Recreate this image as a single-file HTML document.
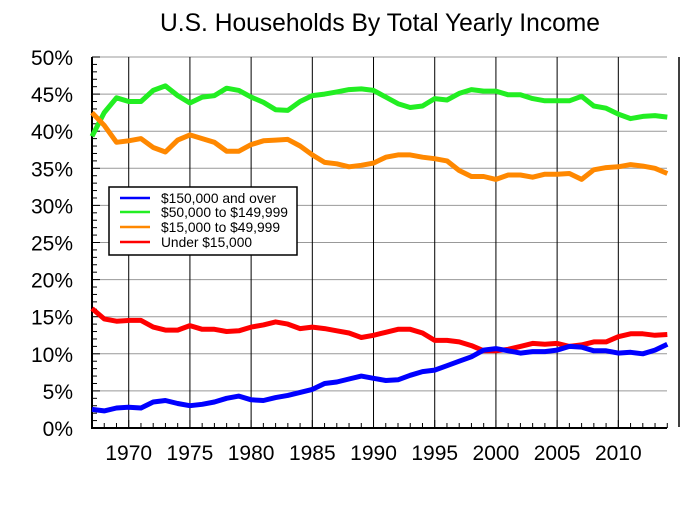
<!DOCTYPE html>
<html><head><meta charset="utf-8"><style>
html,body{margin:0;padding:0;background:#fff;width:685px;height:512px;overflow:hidden}
svg text{font-family:"Liberation Sans",sans-serif;fill:#000}
</style></head><body>
<svg id="s" width="685" height="512" xmlns="http://www.w3.org/2000/svg">
<text x="380" y="31" font-size="25" text-anchor="middle" textLength="440" lengthAdjust="spacingAndGlyphs">U.S. Households By Total Yearly Income</text>
<g id="g"></g>
<line x1="679" y1="57" x2="679" y2="427" stroke="#000" stroke-width="1.5"/>
<rect x="109" y="187" width="188" height="68" fill="#fff" stroke="#000" stroke-width="1.5"/>
<line x1="120" y1="198" x2="150" y2="198" stroke="#0000ff" stroke-width="2.5"/>
<line x1="120" y1="212" x2="150" y2="212" stroke="#22ee22" stroke-width="2.5"/>
<line x1="120" y1="227" x2="150" y2="227" stroke="#ff8800" stroke-width="2.5"/>
<line x1="120" y1="242" x2="150" y2="242" stroke="#ff0000" stroke-width="2.5"/>
<text x="161" y="203" font-size="14" textLength="115" lengthAdjust="spacingAndGlyphs">$150,000 and over</text>
<text x="161" y="217" font-size="14" textLength="127" lengthAdjust="spacingAndGlyphs">$50,000 to $149,999</text>
<text x="161" y="232" font-size="14" textLength="119" lengthAdjust="spacingAndGlyphs">$15,000 to $49,999</text>
<text x="161" y="247" font-size="14" textLength="91" lengthAdjust="spacingAndGlyphs">Under $15,000</text>
</svg>
<script>
var g=document.getElementById('g'),h='';
function X(y){return 92+(y-1967)*12.24;}
function Y(v){return 428-v*7.42;}
for(var i=0;i<=10;i++){var y=Y(i*5);h+='<line x1="92" y1="'+y+'" x2="667" y2="'+y+'" stroke="#999" stroke-width="1"/>';
h+='<text x="73" y="'+(y+8)+'" font-size="21" text-anchor="end">'+(i*5)+'%</text>';}
for(var v=0;v<=50;v++){var y=Y(v);h+='<line x1="92" y1="'+y+'" x2="'+(v%5?97:100)+'" y2="'+y+'" stroke="#000" stroke-width="1"/>';}
for(var yr=1970;yr<=2010;yr+=5){var x=X(yr);h+='<line x1="'+x+'" y1="57" x2="'+x+'" y2="428" stroke="#000" stroke-width="1"/>';
h+='<text x="'+x+'" y="460" font-size="21" text-anchor="middle">'+yr+'</text>';}
for(var yr=1967;yr<=2014;yr++){var x=X(yr);h+='<line x1="'+x+'" y1="428" x2="'+x+'" y2="'+(yr%5?423:420)+'" stroke="#000" stroke-width="1"/>';}
h+='<line x1="92" y1="57" x2="92" y2="429" stroke="#000" stroke-width="2"/><line x1="91" y1="428" x2="667" y2="428" stroke="#000" stroke-width="2"/>';
var D=[["#22ee22",[39.3,42.5,44.5,44.0,44.0,45.5,46.1,44.8,43.8,44.6,44.8,45.8,45.5,44.6,43.9,42.9,42.8,44.0,44.8,45.0,45.3,45.6,45.7,45.5,44.6,43.7,43.2,43.4,44.4,44.2,45.1,45.6,45.4,45.4,44.9,44.9,44.4,44.1,44.1,44.1,44.7,43.4,43.1,42.3,41.7,42.0,42.1,41.9]],
["#ff8800",[42.5,40.8,38.5,38.7,39.0,37.8,37.2,38.8,39.5,39.0,38.5,37.3,37.3,38.2,38.7,38.8,38.9,38.0,36.8,35.8,35.6,35.2,35.4,35.7,36.5,36.8,36.8,36.5,36.3,36.0,34.7,33.9,33.9,33.5,34.1,34.1,33.8,34.2,34.2,34.3,33.5,34.8,35.1,35.2,35.5,35.3,35.0,34.3]],
["#ff0000",[16.1,14.7,14.4,14.5,14.5,13.6,13.2,13.2,13.8,13.3,13.3,13.0,13.1,13.6,13.9,14.3,14.0,13.4,13.6,13.4,13.1,12.8,12.2,12.5,12.9,13.3,13.3,12.8,11.8,11.8,11.6,11.1,10.4,10.4,10.6,11.0,11.4,11.3,11.4,11.0,11.2,11.6,11.6,12.3,12.7,12.7,12.5,12.6]],
["#0000ff",[2.5,2.3,2.7,2.8,2.7,3.5,3.7,3.3,3.0,3.2,3.5,4.0,4.3,3.8,3.7,4.1,4.4,4.8,5.2,6.0,6.2,6.6,7.0,6.7,6.4,6.5,7.1,7.6,7.8,8.4,9.0,9.6,10.5,10.7,10.4,10.1,10.3,10.3,10.5,11.0,10.9,10.4,10.4,10.1,10.2,10.0,10.5,11.3]]];
D.forEach(function(d){var p=d[1].map(function(v,i){return X(1967+i).toFixed(1)+','+Y(v).toFixed(1)}).join(' ');
h+='<polyline points="'+p+'" fill="none" stroke="'+d[0]+'" stroke-width="5" stroke-linejoin="round"/>';});
g.innerHTML=h;
</script>
</body></html>
